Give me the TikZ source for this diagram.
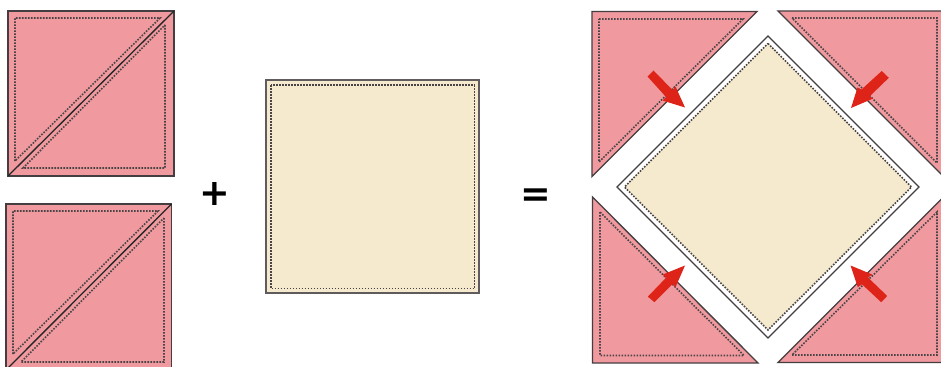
\documentclass[tikz,border=0pt]{standalone}
\usepackage{fontspec}
\newfontfamily\symfont{DejaVu Sans}
\definecolor{patch}{HTML}{F09A9F}
\definecolor{cream}{HTML}{F5EACD}
\definecolor{edge}{HTML}{443E40}
\definecolor{stitchc}{HTML}{4A4446}
\definecolor{arrowred}{HTML}{DE2418}
\tikzset{
  piece/.style={fill=patch,draw=edge,line width=1pt,line join=miter,miter limit=10},
  seam/.style={draw=black!85,line width=1pt},
  stitch/.style={draw=stitchc,line width=1.2pt,dash pattern=on 1.2pt off 1.05pt},
  creampiece/.style={fill=cream,draw=edge!85,line width=1.1pt},
  pointer/.style={fill=arrowred,draw=none},
  signtext/.style={font=\symfont\bfseries\fontsize{27.5pt}{30pt}\selectfont,inner sep=0pt,text=black}
}
\begin{document}
\begin{tikzpicture}[x=0.75pt,y=-0.75pt]
\clip (0,0) rectangle (941,367);
\fill[white] (0,0) rectangle (941,367);
% left squares
\path[piece] (8,11) rectangle (174,176);
\path[seam] (8,176) -- (174,11);
\path[stitch] (15,161) -- (15,18) -- (160,18) -- cycle;
\path[stitch] (165,25) -- (165,168) -- (23,168) -- cycle;
\path[piece] (6,204) rectangle (171.5,370);
\path[seam] (6,370) -- (171.5,204);
\path[stitch] (13,354) -- (13,211) -- (158,211) -- cycle;
\path[stitch] (164,218) -- (164,362) -- (21,362) -- cycle;
% centre square
\path[creampiece] (266,80) rectangle (479,293);
\path[stitch] (271,85) rectangle (474.5,288.5);
% signs
\node[signtext] (plus) at (215,194) {+};
\node[signtext] (equals) at (535.5,197.5) {=};
% triangles
\path[piece] (592,11.5) -- (757,11.5) -- (592,176.5) -- cycle;
\path[stitch] (599,19) -- (743,19) -- (599,162) -- cycle;
\path[piece] (778,11) -- (945,11) -- (945,178) -- cycle;
\path[stitch] (792,18) -- (937,18) -- (937,163) -- cycle;
\path[piece] (592.5,197) -- (592.5,363) -- (758,363) -- cycle;
\path[stitch] (600,212) -- (600,355.5) -- (744,355.5) -- cycle;
\path[piece] (778,362.5) -- (945,362.5) -- (945,195.5) -- cycle;
\path[stitch] (792,355) -- (937,355) -- (937,212) -- cycle;
% diamond
\path[draw=edge,line width=0.9pt,fill=white] (768,36) -- (919,187) -- (768,338) -- (617,187) -- cycle;
\path[stitch,fill=cream] (768,43.5) -- (911.5,187) -- (768,330) -- (624.5,187) -- cycle;
% arrows
\fill[pointer] (647.5,76.5) -- (653.5,70.5) -- (672.5,90) -- (675.5,86.5) -- (685,107.5) -- (662.5,100.5) -- (666,97) -- cycle;
\fill[pointer] (888.8,77.8) -- (881.7,71) -- (861.5,89.5) -- (857.5,87.5) -- (851,108) -- (873.2,98.5) -- (869.5,96.5) -- cycle;
\fill[pointer] (647.8,296.7) -- (654.5,302.2) -- (672.5,284) -- (675.5,287.2) -- (685,265.5) -- (662.8,274.5) -- (665.8,278) -- cycle;
\fill[pointer] (887.2,296) -- (881.2,302.2) -- (862,284.3) -- (857.8,287.2) -- (850.5,265.5) -- (872.2,274.5) -- (868,277.5) -- cycle;
\end{tikzpicture}
\end{document}
